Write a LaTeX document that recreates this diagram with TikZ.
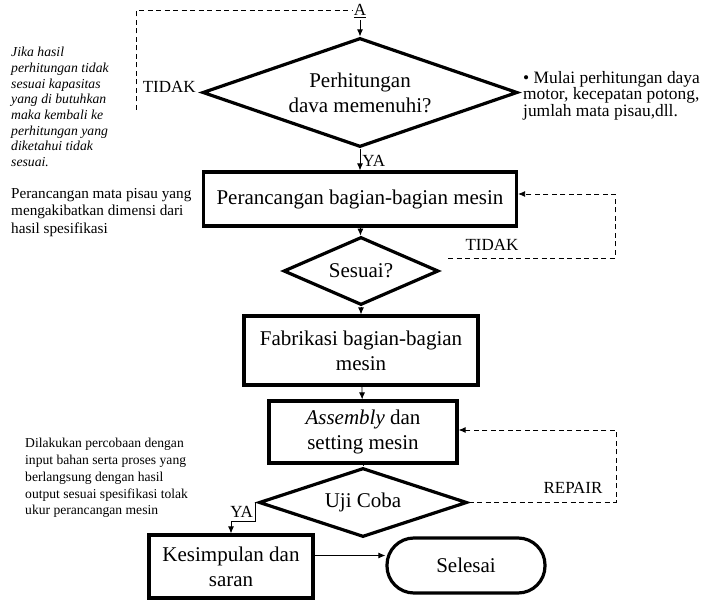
\documentclass[tikz,border=0pt]{standalone}
\usepackage{fontspec}
\setmainfont{Liberation Serif}
\usetikzlibrary{shapes.geometric,arrows.meta}

\newcommand{\flowfont}{\fontsize{21}{25}\selectfont}

\begin{document}
\begin{tikzpicture}[x=1pt, y=-1pt,
box/.style={draw, line width=3.2pt, align=center, inner sep=2pt, font=\flowfont},
decision/.style={draw, diamond, line width=3.2pt, inner sep=0pt, aspect=2.6, align=center, font=\flowfont},
arrow/.style={-{Latex[length=7pt, width=6pt]}, line width=0.8pt},
dashline/.style={line width=1pt, dash pattern=on 5pt off 3.5pt},
lbl/.style={font=\fontsize{17}{19}\selectfont, inner sep=2pt},
note/.style={align=left, anchor=north west, inner sep=0pt}
]
\useasboundingbox (0,0) rectangle (710,601);

% main column
\node[lbl] (A) at (360,11) {\underline{A}};
\node[decision, minimum width=315, minimum height=109] (d1) at (360,92.5) {Perhitungan\\dava memenuhi?};
\node[box, minimum width=313, minimum height=54] (b1) at (360,199) {Perancangan bagian-bagian mesin};
\node[decision, minimum width=155, minimum height=68] (d2) at (361,271) {Sesuai?};
\node[box, minimum width=234, minimum height=69] (b2) at (361,350.5) {Fabrikasi bagian-bagian\\mesin};
\node[box, minimum width=188, minimum height=62] (b3) at (363,432) {\textit{Assembly} dan\\setting mesin};
\node[decision, minimum width=208, minimum height=69] (d3) at (363,502.5) {Uji Coba};
\node[box, minimum width=164, minimum height=63] (b4) at (231,566.5) {Kesimpulan dan\\saran};
\node[box, rounded corners=27pt, minimum width=158, minimum height=55] (selesai) at (466,565.5) {Selesai};

% side notes
\node[note, font=\fontsize{13.7}{15.7}\selectfont\itshape] (n1) at (11,47) {Jika hasil\\perhitungan tidak\\sesuai kapasitas\\yang di butuhkan\\maka kembali ke\\perhitungan yang\\diketahui tidak\\sesuai.};
\node[note, font=\fontsize{15.2}{17.5}\selectfont] (n2) at (11,188) {Perancangan mata pisau yang\\mengakibatkan dimensi dari\\hasil spesifikasi};
\node[note, font=\fontsize{17.4}{16.5}\selectfont] (n3) at (523,71) {\textbullet{} Mulai perhitungan daya\\motor, kecepatan potong,\\jumlah mata pisau,dll.};
\node[note, font=\fontsize{13.6}{16.8}\selectfont] (n4) at (25,438) {Dilakukan percobaan dengan\\input bahan serta proses yang\\berlangsung dengan hasil\\output sesuai spesifikasi tolak\\ukur perancangan mesin};

% labels
\node[lbl, anchor=base east] (tidak1) at ([xshift=-3pt]d1.west) {TIDAK};
\node[lbl] (tidak2) at (492,245) {TIDAK};
\node[lbl] (repair) at (573,488) {REPAIR};

% connectors
\coordinate (back) at (136,110);
\coordinate (tidakR) at (615,194);
\coordinate (repR) at (616,430);
\draw[dashline] (back) |- (A.west);
\draw[arrow] (A) -- (d1.north);
\draw[arrow] (d1.south) -- (b1.north) node[lbl, anchor=west, pos=0.55] {YA};
\draw[arrow] (b1) -- (d2);
\draw[arrow] (d2) -- (b2);
\draw[arrow] (b2) -- (b3);
\draw[line width=0.8pt] (b3) -- (d3);
\draw[dashline, arrow] ([shift={(8,-13)}]d2.east) -| (tidakR) -- (tidakR -| b1.east);
\draw[dashline, arrow] (d3.east) -| (repR) -- (repR -| b3.east);
\draw[arrow] (d3.west) -- ++(-2,0) -- ++(0,19) node[lbl, midway, left] {YA} -| (b4.north);
\draw[arrow] ([yshift=11pt]b4.east) -- ([yshift=11pt]b4.east -| selesai.west);
\end{tikzpicture}
\end{document}
